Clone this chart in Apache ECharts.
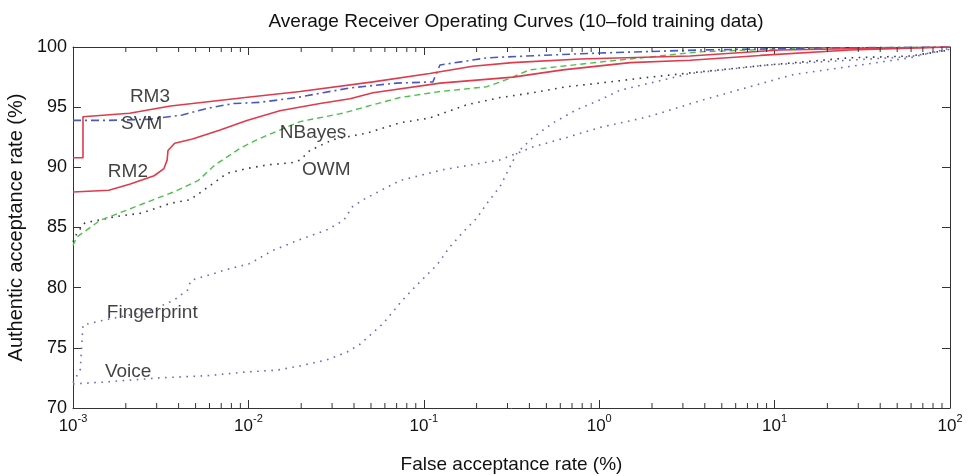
<!DOCTYPE html>
<html><head><meta charset="utf-8">
<script src="https://cdn.jsdelivr.net/npm/echarts@6/dist/echarts.min.js"></script>
<style>html,body{margin:0;padding:0;background:#fff}#c{width:968px;height:476px}</style>
</head><body><div id="c"></div>
<script>
// ---- data (x = false acceptance rate %, y = authentic acceptance rate %) ----
const xTickValues = [0.001, 0.01, 0.1, 1, 10, 100];
const yTickValues = [70, 75, 80, 85, 90, 95, 100];

const rm3 = [[0.001,90.8],[0.00114,90.8],[0.00114,94.2],[0.0021,94.5],[0.0036,95.1],[0.0096,95.8],[0.0197,96.3],[0.0513,97.1],[0.108,97.8],[0.19,98.4],[0.32,98.7],[0.78,99.0],[3.3,99.25],[10.7,99.75],[100,100]];
const svm = [[0.001,93.9],[0.0016,93.9],[0.00275,94.0],[0.0042,94.35],[0.0058,94.9],[0.0082,95.3],[0.0116,95.4],[0.0189,95.8],[0.0266,96.2],[0.038,96.6],[0.07,97.0],[0.1127,97.1],[0.1236,98.5],[0.229,99.1],[0.46,99.3],[1.01,99.5],[3.76,99.75],[14,99.9],[100,100]];
const rm2 = [[0.001,87.95],[0.0016,88.1],[0.0021,88.6],[0.0029,89.3],[0.0033,89.9],[0.00344,90.6],[0.00348,91.4],[0.0038,92.0],[0.0048,92.35],[0.0069,93.1],[0.0098,93.9],[0.0151,94.7],[0.0256,95.3],[0.038,95.7],[0.0513,96.2],[0.124,97.0],[0.323,97.5],[0.62,98.1],[1.5,98.7],[3.3,98.9],[8.3,99.3],[27,99.75],[100,100]];
const nbayes = [[0.001,83.5],[0.00105,84.2],[0.00143,85.6],[0.00203,86.45],[0.00286,87.3],[0.00382,88.0],[0.00517,88.9],[0.00645,90.2],[0.009,91.6],[0.0116,92.4],[0.0197,93.8],[0.0346,94.5],[0.0513,95.2],[0.0731,95.8],[0.124,96.3],[0.229,96.7],[0.31,97.4],[0.40,98.1],[1.01,98.75],[3.76,99.6],[14,99.9],[100,100]];
const owm = [[0.001,83.8],[0.00105,84.5],[0.00117,85.4],[0.00139,85.6],[0.00174,85.9],[0.00247,86.2],[0.00357,87.0],[0.00465,87.3],[0.00581,88.3],[0.00662,88.9],[0.00755,89.5],[0.0098,89.9],[0.0128,90.2],[0.018,90.4],[0.0197,90.6],[0.0224,91.4],[0.0303,92.3],[0.0475,92.85],[0.0731,93.7],[0.108,94.1],[0.176,95.2],[0.272,95.8],[0.42,96.2],[0.651,96.7],[1.01,97.0],[1.71,97.4],[3.3,97.85],[9.05,98.5],[26.9,99.1],[59,99.25],[100,99.75]];
const fingerprint = [[0.001,72.1],[0.0011,73.2],[0.00114,76.9],[0.0015,77.3],[0.0028,78.1],[0.0038,79.0],[0.0045,79.8],[0.0047,80.6],[0.0058,81.0],[0.0075,81.5],[0.0102,82.0],[0.0138,83.1],[0.0197,84.0],[0.028,84.8],[0.035,85.6],[0.039,86.7],[0.045,87.3],[0.073,88.9],[0.128,89.8],[0.27,90.6],[0.42,91.7],[0.66,92.5],[1.0,93.3],[1.9,94.2],[3.9,95.6],[12.7,97.7],[59,99.1],[100,99.9]];
const voice = [[0.001,72.0],[0.00148,72.15],[0.0031,72.5],[0.006,72.7],[0.0098,73.0],[0.0146,73.15],[0.0197,73.5],[0.028,74.0],[0.0365,74.65],[0.0433,75.3],[0.0584,77.0],[0.076,79.0],[0.091,80.2],[0.119,81.9],[0.141,83.4],[0.167,84.6],[0.201,85.8],[0.229,87.0],[0.272,88.4],[0.34,91.2],[0.42,92.5],[0.546,93.7],[0.746,94.8],[1.01,95.6],[1.31,96.4],[3.3,97.8],[9.05,98.5],[59,99.2],[100,99.8]];

const annotations = [
  {name:'RM3', value:[0.00211,95.84]},
  {name:'SVM', value:[0.00188,93.6]},
  {name:'RM2', value:[0.00158,89.6]},
  {name:'NBayes', value:[0.0151,92.85]},
  {name:'OWM', value:[0.0202,89.78]},
  {name:'Fingerprint', value:[0.00156,77.9]},
  {name:'Voice', value:[0.00152,72.98]}
];

// minor tick values on the log axis (2..9 x 10^k)
const minorTickValues = [];
for (let e = -3; e < 2; e++) for (let m = 2; m <= 9; m++) minorTickValues.push(m * Math.pow(10, e));

const FONT = 'Liberation Sans';
const AX = '#333';
const chart = echarts.init(document.getElementById('c'), null, {renderer:'canvas'});

function lineSeries(name, data, color, type, width) {
  return {name, type:'line', data, showSymbol:false, symbol:'none', silent:true,
    lineStyle:{color, width: width||1.4, type}, z:3};
}

const expLabel = v => {
  const e = Math.round(Math.log10(v));
  return '{b|10}{s|' + e + '}';
};

chart.setOption({
  animation:false,
  backgroundColor:'#fff',
  title:{text:'Average Receiver Operating Curves (10–fold training data)', left:511, top:7, textAlign:'center',
    textStyle:{fontFamily:FONT, fontSize:19, fontWeight:'normal', color:'#111'}},
  grid:{left:73, right:18, top:47, bottom:68, show:false, containLabel:false, outerBoundsMode:'none'},
  xAxis:[
    {type:'log', logBase:10, min:0.001, max:100, position:'bottom',
     name:'False acceptance rate (%)', nameLocation:'middle', nameGap:47,
     nameTextStyle:{fontFamily:FONT, fontSize:19, color:'#111'},
     axisLine:{lineStyle:{color:AX, width:1}},
     axisTick:{inside:true, length:8, lineStyle:{color:AX}},
     splitLine:{show:false}, minorTick:{show:false},
     axisLabel:{formatter:expLabel, margin:5, rich:{
        b:{fontFamily:FONT, fontSize:17, color:'#111', verticalAlign:'bottom'},
        s:{fontFamily:FONT, fontSize:11, color:'#111', verticalAlign:'top', padding:[0,0,11,0]}}}},
    {type:'log', logBase:10, min:0.001, max:100, position:'top',
     axisLine:{lineStyle:{color:AX, width:1}},
     axisTick:{inside:true, length:8, lineStyle:{color:AX}},
     axisLabel:{show:false}, splitLine:{show:false}}
  ],
  yAxis:[
    {type:'value', min:70, max:100, interval:5, position:'left',
     name:'Authentic acceptance rate (%)', nameLocation:'middle', nameGap:42,
     nameTextStyle:{fontFamily:FONT, fontSize:20, color:'#111'},
     axisLine:{show:true, lineStyle:{color:AX, width:1}},
     axisTick:{show:true, inside:true, length:8, lineStyle:{color:AX}},
     axisLabel:{fontFamily:FONT, fontSize:18, color:'#111', margin:6},
     splitLine:{show:false}},
    {type:'value', min:70, max:100, interval:5, position:'right',
     axisLine:{show:true, lineStyle:{color:AX, width:1}},
     axisTick:{show:true, inside:true, length:8, lineStyle:{color:AX}},
     axisLabel:{show:false}, splitLine:{show:false}}
  ],
  series:[
    {type:'custom', silent:true, data: minorTickValues.map(v => [v, 70]), encode:{x:0, y:1}, z:5,
     renderItem:(params, api) => {
       const v = api.value(0);
       const b = api.coord([v, 70]), t = api.coord([v, 100]);
       return {type:'group', children:[
         {type:'line', shape:{x1:b[0], y1:b[1], x2:b[0], y2:b[1]-5}, style:{stroke:AX, lineWidth:1}},
         {type:'line', shape:{x1:t[0], y1:t[1], x2:t[0], y2:t[1]+5}, style:{stroke:AX, lineWidth:1}}
       ]};
     }},
    lineSeries('Voice', voice, '#6a6ac8', [1.6, 5.5], 1.6),
    lineSeries('Fingerprint', fingerprint, '#6a6ac8', [1.6, 5.5], 1.6),
    lineSeries('OWM', owm, '#3a3a48', [1.6, 5.5], 1.6),
    lineSeries('NBayes', nbayes, '#4cc24c', [6, 4], 1.4),
    lineSeries('RM2', rm2, '#e23a4c', 'solid', 1.6),
    lineSeries('SVM', svm, '#4a58c4', [8, 4, 2, 4], 1.6),
    lineSeries('RM3', rm3, '#e23a4c', 'solid', 1.6),
    {type:'scatter', data:annotations, symbolSize:0, silent:true, z:10,
     label:{show:true, position:'right', distance:0, formatter:p => p.name,
       fontFamily:FONT, fontSize:19, color:'#111'}}
  ]
});
</script></body></html>
